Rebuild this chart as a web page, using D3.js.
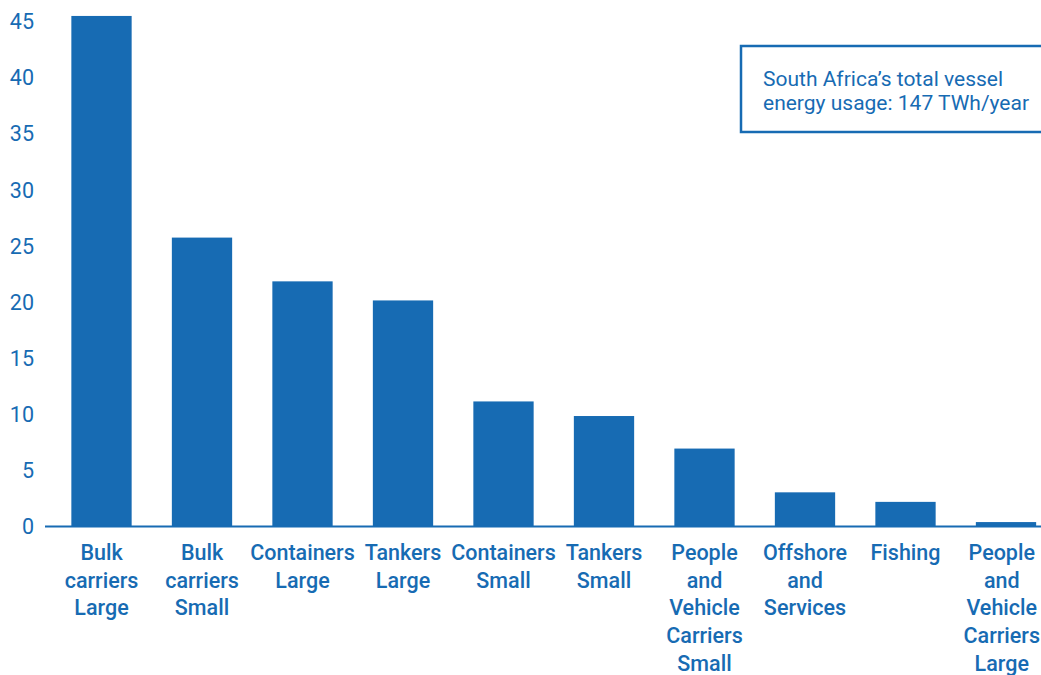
<!DOCTYPE html>
<html><head><meta charset="utf-8">
<script src="https://cdn.jsdelivr.net/npm/d3@7"></script>
<style>body{margin:0;background:#fff}svg{display:block}</style>
</head><body><svg id="c" width="1041" height="675"></svg>
<script>
const categories = [
  ["Bulk","carriers","Large"],
  ["Bulk","carriers","Small"],
  ["Containers","Large"],
  ["Tankers","Large"],
  ["Containers","Small"],
  ["Tankers","Small"],
  ["People","and","Vehicle","Carriers","Small"],
  ["Offshore","and","Services"],
  ["Fishing"],
  ["People","and","Vehicle","Carriers","Large"]
];
const values = [45.45, 25.7, 21.8, 20.1, 11.1, 9.8, 6.9, 3.0, 2.15, 0.35];
const yTicks = [0,5,10,15,20,25,30,35,40,45];
const note = ["South Africa\u2019s total vessel","energy usage: 147 TWh/year"];

const W = 1041;
const blue = "#176bb3";
const font = "Roboto, 'Open Sans', sans-serif";
const svg = d3.select("#c");
const x = d3.scaleBand().domain(d3.range(categories.length)).range([51.25, 1056.25]).paddingInner(0.4).paddingOuter(0.2);
const y = d3.scaleLinear().domain([0,45]).range([526, 21]);

svg.append("g").selectAll("rect").data(values).join("rect")
  .attr("x",(d,i)=>x(i)).attr("width",x.bandwidth())
  .attr("y",d=>y(d)).attr("height",d=>y(0)-y(d)).attr("fill",blue);

svg.append("line").attr("x1",45).attr("x2",W).attr("y1",y(0)+0.5).attr("y2",y(0)+0.5)
  .attr("stroke",blue).attr("stroke-width",2);

const yAxis = d3.axisLeft(y).tickValues(yTicks).tickSize(0).tickPadding(0);
const gy = svg.append("g").attr("transform","translate(34,0)").call(yAxis);
gy.select(".domain").remove();
gy.selectAll("text").attr("fill",blue).attr("font-family",font).attr("font-size",21.5).attr("dy","0.36em");

const gx = svg.append("g");
categories.forEach((lines,i)=>{
  let cx = x(i)+x.bandwidth()/2;
  const t = gx.append("text").attr("y",560)
    .attr("text-anchor","middle").attr("fill",blue).attr("font-family",font)
    .attr("font-size",21.5).attr("font-weight",500);
  const spans = lines.map((l,j)=>t.append("tspan").attr("x",cx).attr("y",560+j*27.7).text(l));
  const maxW = d3.max(spans, s=>s.node().getComputedTextLength());
  cx = Math.min(cx, W - 1 - maxW/2);
  spans.forEach(s=>s.attr("x",cx));
});

svg.append("rect").attr("x",741).attr("y",46).attr("width",310).attr("height",86)
  .attr("fill","none").attr("stroke",blue).attr("stroke-width",2.5);
note.forEach((l,j)=>svg.append("text").attr("x",763).attr("y",86+j*24).attr("fill",blue)
  .attr("font-family",font).attr("font-size",21).text(l));
</script></body></html>
